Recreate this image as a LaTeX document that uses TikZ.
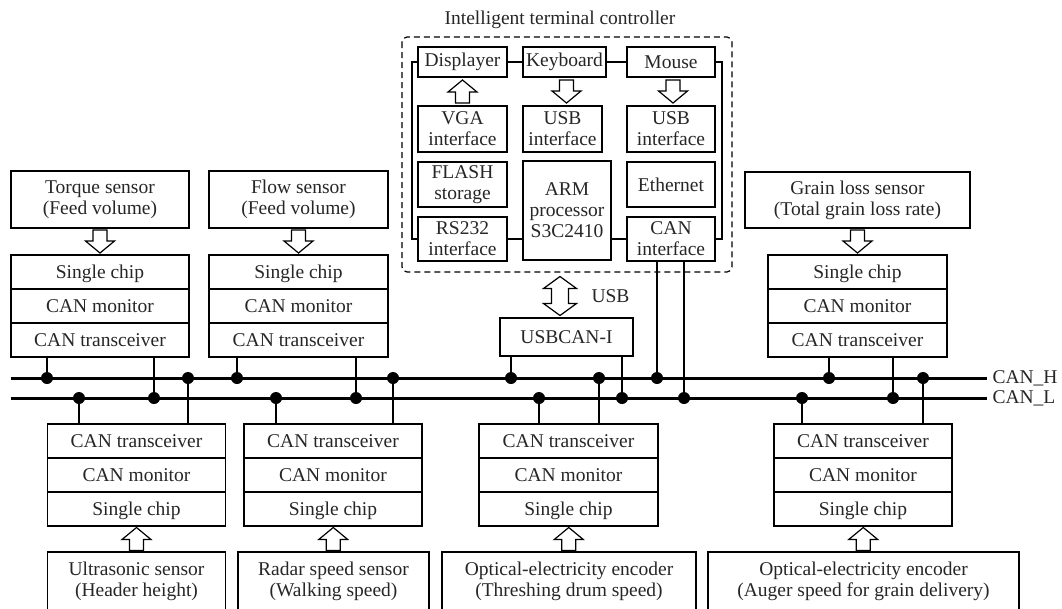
\documentclass[tikz,border=0pt]{standalone}
\usepackage{fontspec}
\setmainfont{Liberation Serif}
\usetikzlibrary{positioning,calc}

\tikzset{
  box/.style={draw, line width=1.2pt, inner sep=0pt, outer sep=0pt, align=center, text=black!85},
  cell/.style={box, minimum width=#1, minimum height=34pt, text height=14pt, text depth=2pt},
  frame/.style={line width=1.2pt, dash pattern=on 6pt off 4pt, rounded corners=5pt},
  wire/.style={line width=1.2pt},
  bus/.style={line width=3pt},
  stub/.style={line width=2pt},
  dot/.style={circle, fill, inner sep=0pt, minimum size=12pt},
  % hollow block arrow, pointing up (y grows downwards)
  pics/hollow/.style={code={
    \draw[line width=1.2pt, fill=white] (-7,11.5) -- (-7,0.5) -- (-14.5,0.5) -- (0,-11.5)
      -- (14.5,0.5) -- (7,0.5) -- (7,11.5) -- cycle;
  }},
  % hollow two-way block arrow, vertical
  pics/twoway/.style={code={
    \draw[line width=1.2pt, fill=white] (-8.5,-7.5) -- (-16.5,-7.5) -- (0,-19.5) -- (16.5,-7.5)
      -- (8.5,-7.5) -- (8.5,7.5) -- (16.5,7.5) -- (0,19.5) -- (-16.5,7.5) -- (-8.5,7.5) -- cycle;
  }}
}

\begin{document}
\begin{tikzpicture}[x=1pt, y=-1pt, font=\fontsize{19.5pt}{21pt}\selectfont]
\useasboundingbox (0,0) rectangle (1062,608);

% intelligent terminal controller
\node[text=black!85] (title) at (560,20) {Intelligent terminal controller};
\draw[frame] (402,37) rectangle (732,272);

\node[box, minimum width=89pt, minimum height=30pt] (disp) at (462.5,62) {Displayer};
\node[box, minimum width=83pt, minimum height=30pt] (kbd) at (564.5,62) {Keyboard};
\node[box, minimum width=88pt, minimum height=30pt] (mouse) at (671,62) {Mouse};
\node[box, minimum width=89pt, minimum height=46pt] (vga) at (462.5,129) {VGA\\interface};
\node[box, minimum width=79pt, minimum height=46pt] (usbk) at (562.5,129) {USB\\interface};
\node[box, minimum width=88pt, minimum height=46pt] (usbm) at (671,129) {USB\\interface};
\node[box, minimum width=89pt, minimum height=45pt] (flash) at (462.5,184.5) {FLASH\\storage};
\node[box, minimum width=88pt, minimum height=99pt] (arm) at (567,210.5) {ARM\\processor\\S3C2410};
\node[box, minimum width=88pt, minimum height=45pt] (eth) at (671,184.5) {Ethernet};
\node[box, minimum width=89pt, minimum height=44pt] (rs) at (462.5,239) {RS232\\interface};
\node[box, minimum width=88pt, minimum height=44pt] (canif) at (671,239) {CAN\\interface};

\draw[wire] (disp) -- (kbd);
\draw[wire] (kbd) -- (mouse);
\draw[wire] (mouse.east) -- ++(7,0) |- (canif.east);
\draw[wire] (disp.west) -- ++(-6,0) |- (rs.west);
\draw[wire] (rs.east) -- (rs.east -| arm.west);
\draw[wire] (canif.west -| arm.east) -- (canif.west);

\pic (avga) at ($(vga.north)!0.5!(disp.south)$) {hollow};
\pic[rotate=180] (akbd) at ($(kbd.south)!0.5!(usbk.north)+(3,0)$) {hollow};
\pic[rotate=180] (amouse) at ($(mouse.south)!0.5!(usbm.north)+(2,0)$) {hollow};

% usb link
\node[box, minimum width=133pt, minimum height=38pt] (usbcan) at (566.5,337) {USBCAN-I};
\coordinate (ausb) at (560,296);
\pic at (ausb) {twoway};
\node[text=black!85, right=28pt of ausb] (usblbl) {USB};

% top modules
\node[box, minimum width=178pt, minimum height=57pt] (torque) at (100,199.5) {Torque sensor\\(Feed volume)};
\node[cell=178pt] (tqa) at (100,272) {Single chip};
\node[cell=178pt, below=0pt of tqa] (tqb) {CAN monitor};
\node[cell=178pt, below=0pt of tqb] (tqc) {CAN transceiver};
\pic[rotate=180] (atq) at ($(torque.south)!0.5!(tqa.north)$) {hollow};

\node[box, minimum width=179pt, minimum height=57pt] (flow) at (298.5,199.5) {Flow sensor\\(Feed volume)};
\node[cell=179pt] (fla) at (298.5,272) {Single chip};
\node[cell=179pt, below=0pt of fla] (flb) {CAN monitor};
\node[cell=179pt, below=0pt of flb] (flc) {CAN transceiver};
\pic[rotate=180] (afl) at ($(flow.south)!0.5!(fla.north)$) {hollow};

\node[box, minimum width=225pt, minimum height=56pt] (grain) at (857.5,200) {Grain loss sensor\\(Total grain loss rate)};
\node[cell=179pt] (gra) at (857.5,272) {Single chip};
\node[cell=179pt, below=0pt of gra] (grb) {CAN monitor};
\node[cell=179pt, below=0pt of grb] (grc) {CAN transceiver};
\pic[rotate=180] (agr) at ($(grain.south)!0.5!(gra.north)$) {hollow};

% bottom modules
\node[cell=178pt] (usa) at (136.5,441) {CAN transceiver};
\node[cell=178pt, below=0pt of usa] (usb) {CAN monitor};
\node[cell=178pt, below=0pt of usb] (usc) {Single chip};
\node[box, minimum width=178pt, minimum height=58pt] (ultra) at (136.5,581) {Ultrasonic sensor\\(Header height)};
\pic (aus) at ($(ultra.north)!0.5!(usc.south)$) {hollow};

\node[cell=178pt] (rda) at (333,441) {CAN transceiver};
\node[cell=178pt, below=0pt of rda] (rdb) {CAN monitor};
\node[cell=178pt, below=0pt of rdb] (rdc) {Single chip};
\node[box, minimum width=191pt, minimum height=58pt] (radar) at (333.5,581) {Radar speed sensor\\(Walking speed)};
\pic (ard) at ($(radar.north)!0.5!(rdc.south)$) {hollow};

\node[cell=179pt] (tha) at (568.5,441) {CAN transceiver};
\node[cell=179pt, below=0pt of tha] (thb) {CAN monitor};
\node[cell=179pt, below=0pt of thb] (thc) {Single chip};
\node[box, minimum width=254pt, minimum height=58pt] (thresh) at (569,581) {Optical-electricity encoder\\(Threshing drum speed)};
\pic (ath) at ($(thresh.north)!0.5!(thc.south)$) {hollow};

\node[cell=178pt] (aga) at (863,441) {CAN transceiver};
\node[cell=178pt, below=0pt of aga] (agb) {CAN monitor};
\node[cell=178pt, below=0pt of agb] (agc) {Single chip};
\node[box, minimum width=311pt, minimum height=58pt] (auger) at (863.5,581) {Optical-electricity encoder\\(Auger speed for grain delivery)};
\pic (aag) at ($(auger.north)!0.5!(agc.south)$) {hollow};

% CAN bus
\coordinate (hw) at (11,378);
\coordinate (he) at (987,378);
\coordinate (lw) at (11,398);
\coordinate (le) at (987,398);
\draw[bus] (hw) -- (he) node[right=4pt, text=black!85, inner sep=0pt] (canh) {CAN\_H};
\draw[bus] (lw) -- (le) node[right=4pt, text=black!85, inner sep=0pt] (canl) {CAN\_L};

\node[dot] (h1) at (47,378) {};
\node[dot] (h2) at (188,378) {};
\node[dot] (h3) at (237,378) {};
\node[dot] (h4) at (393,378) {};
\node[dot] (h5) at (511,378) {};
\node[dot] (h6) at (599,378) {};
\node[dot] (h7) at (657,378) {};
\node[dot] (h8) at (829,378) {};
\node[dot] (h9) at (923,378) {};
\node[dot] (l1) at (79,398) {};
\node[dot] (l2) at (154,398) {};
\node[dot] (l3) at (276,398) {};
\node[dot] (l4) at (356,398) {};
\node[dot] (l5) at (539,398) {};
\node[dot] (l6) at (622,398) {};
\node[dot] (l7) at (684,398) {};
\node[dot] (l8) at (802,398) {};
\node[dot] (l9) at (893,398) {};

\draw[stub] (tqc.south -| h1) -- (h1);
\draw[stub] (tqc.south -| l2) -- (l2);
\draw[stub] (flc.south -| h3) -- (h3);
\draw[stub] (flc.south -| l4) -- (l4);
\draw[stub] (grc.south -| h8) -- (h8);
\draw[stub] (grc.south -| l9) -- (l9);
\draw[stub] (usbcan.south -| h5) -- (h5);
\draw[stub] (usbcan.south -| l6) -- (l6);
\draw[stub] (canif.south -| h7) -- (h7);
\draw[stub] (canif.south -| l7) -- (l7);

\draw[stub] (h2) -- (h2 |- usa.north);
\draw[stub] (l1) -- (l1 |- usa.north);
\draw[stub] (h4) -- (h4 |- rda.north);
\draw[stub] (l3) -- (l3 |- rda.north);
\draw[stub] (h6) -- (h6 |- tha.north);
\draw[stub] (l5) -- (l5 |- tha.north);
\draw[stub] (h9) -- (h9 |- aga.north);
\draw[stub] (l8) -- (l8 |- aga.north);
\end{tikzpicture}
\end{document}
